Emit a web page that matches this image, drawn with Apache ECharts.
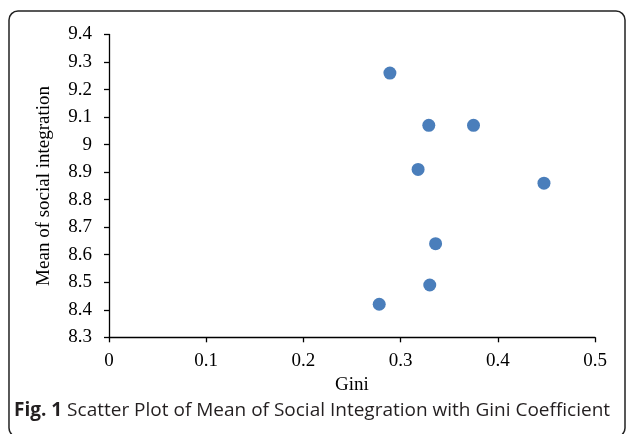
<!DOCTYPE html>
<html><head><meta charset="utf-8">
<script src="https://cdn.jsdelivr.net/npm/echarts@6/dist/echarts.min.js"></script>
<style>html,body{margin:0;padding:0;background:#fff}#c{width:627px;height:434px}</style>
</head><body><div id="c"></div>
<script>
const giniValues = [0.289, 0.329, 0.375, 0.318, 0.4475, 0.336, 0.330, 0.278];
const socialIntegration = [9.26, 9.07, 9.07, 8.91, 8.86, 8.64, 8.49, 8.42];
const xTitle = 'Gini';
const yTitle = 'Mean of social integration';
const captionBold = 'Fig. 1';
const captionText = ' Scatter Plot of Mean of Social Integration with Gini Coefficient';

const points = giniValues.map((g, i) => [g, socialIntegration[i]]);
const chart = echarts.init(document.getElementById('c'));
const serif = '"Liberation Serif", "Times New Roman", serif';
chart.setOption({
  animation: false,
  grid: { left: 109, right: 32, top: 34.5, bottom: 96.7, containLabel: false },
  xAxis: {
    type: 'value', min: 0, max: 0.5, interval: 0.1,
    name: xTitle, nameLocation: 'middle', nameGap: 38,
    nameTextStyle: { fontFamily: serif, fontSize: 19, color: '#000' },
    axisLine: { show: true, lineStyle: { color: '#000', width: 1.3 } },
    axisTick: { show: true, inside: false, length: 5, lineStyle: { color: '#000', width: 1.3 } },
    axisLabel: { fontFamily: serif, fontSize: 19, color: '#000', margin: 14, formatter: v => String(+v.toFixed(1)) },
    splitLine: { show: false }
  },
  yAxis: {
    type: 'value', min: 8.3, max: 9.4, interval: 0.1,
    name: yTitle, nameLocation: 'middle', nameGap: 55, nameRotate: 90,
    nameTextStyle: { fontFamily: serif, fontSize: 19, color: '#000' },
    axisLine: { show: true, lineStyle: { color: '#000', width: 1.3 } },
    axisTick: { show: true, inside: false, length: 5, lineStyle: { color: '#000', width: 1.3 } },
    axisLabel: { fontFamily: serif, fontSize: 19, color: '#000', margin: 17, formatter: v => String(+v.toFixed(1)) },
    splitLine: { show: false }
  },
  series: [{
    type: 'scatter', data: points, symbol: 'circle', symbolSize: 13,
    itemStyle: { color: '#4a7ebb', opacity: 1 }
  }],
  graphic: [
    { type: 'rect', shape: { x: 9, y: 11, width: 616, height: 426, r: 9 },
      style: { fill: 'none', stroke: '#222', lineWidth: 1.5 }, z: 10 },
    { type: 'text', left: 14, top: 401,
      style: { rich: {
          b: { fontFamily: '"Open Sans", sans-serif', fontWeight: 'bold', fontSize: 19, fill: '#231f20' },
          n: { fontFamily: '"Open Sans", sans-serif', fontSize: 19, fill: '#231f20' } },
        text: '{b|' + captionBold + '}{n|' + captionText + '}' }, z: 10 }
  ]
});
</script></body></html>
